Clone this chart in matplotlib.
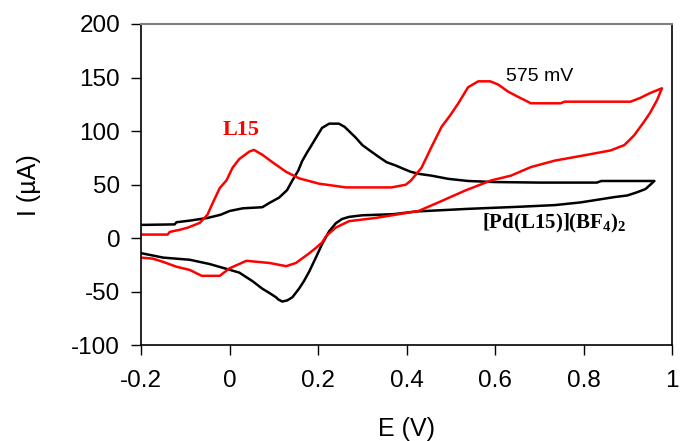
import numpy as np
import matplotlib
matplotlib.use("Agg")
import matplotlib.pyplot as plt

plt.rcParams['font.family'] = ['Liberation Sans', 'DejaVu Sans']
plt.rcParams['mathtext.default'] = 'regular'
plt.rcParams['axes.unicode_minus'] = False

# [Pd(L15)](BF4)2 - black loop (forward scan, then reverse)
E_pd = [-0.2, -0.124, -0.12, -0.09, -0.05, -0.02, 0.0, 0.03, 0.074, 0.09,
        0.112, 0.13, 0.142, 0.155, 0.164, 0.175, 0.184, 0.2, 0.209, 0.225,
        0.247, 0.26, 0.27, 0.285, 0.3, 0.32, 0.337, 0.355, 0.375, 0.398,
        0.41, 0.43, 0.456, 0.494, 0.539, 0.6, 0.7, 0.83, 0.84, 0.96,
        0.94, 0.921, 0.899, 0.87, 0.847, 0.793, 0.735, 0.658, 0.539, 0.42,
        0.37, 0.3, 0.27, 0.254, 0.24, 0.225, 0.209, 0.195, 0.18, 0.168,
        0.157, 0.142, 0.13, 0.119, 0.11, 0.105, 0.09, 0.074, 0.052, 0.022,
        -0.007, -0.045, -0.09, -0.15, -0.198]
I_pd = [12.5, 13, 15, 16.5, 19, 22, 25.5, 28, 29, 33,
        38, 45, 54, 63, 72, 80, 86, 97, 103, 107,
        107, 104, 100, 94, 87, 81, 76, 71, 68, 64,
        62, 60, 58.5, 55.5, 53.5, 52.5, 52, 52, 53.5, 53.5,
        46, 43, 40, 38.5, 37, 33.5, 31, 29.5, 27.5, 25,
        22.5, 21.5, 20, 18, 14, 6.5, -5.5, -18, -31, -40,
        -47, -55, -58, -59, -57, -55, -51, -47, -40, -32,
        -28.5, -24, -20, -18, -14]

# L15 - red loop
E_l15 = [-0.2, -0.14, -0.135, -0.112, -0.094, -0.067, -0.05, -0.038, -0.022, -0.007,
         0.007, 0.022, 0.045, 0.055, 0.074, 0.097, 0.128, 0.157, 0.202, 0.263,
         0.366, 0.398, 0.41, 0.434, 0.456, 0.479, 0.499, 0.517, 0.539, 0.562,
         0.589, 0.607, 0.629, 0.652, 0.681, 0.748, 0.757, 0.906, 0.928, 0.95,
         0.977,
         0.966, 0.95, 0.937, 0.914, 0.892, 0.861, 0.802, 0.735, 0.681, 0.636,
         0.591, 0.532, 0.472, 0.427, 0.382, 0.33, 0.27, 0.24, 0.218, 0.209,
         0.195, 0.18, 0.15, 0.128, 0.09, 0.038, 0.0, -0.022, -0.063, -0.09,
         -0.12, -0.15, -0.173, -0.2]
I_l15 = [3.5, 3.5, 6, 8, 10, 14.5, 22, 33, 47, 54,
         66, 74, 81, 82.5, 78, 71, 62, 56, 51, 47.5,
         47.5, 50, 54, 66, 85, 104, 115, 126, 141, 146.5,
         146.5, 143.5, 137, 132, 126, 126, 127.5, 127.5, 131, 135.5,
         140,
         129, 117, 109, 96, 87, 82, 77.5, 72.5, 66.5, 58.5,
         54, 44.5, 33.5, 25.5, 22.5, 19, 16, 10, 2, -4,
         -9, -14, -23, -26, -23, -21, -28, -35, -35, -29.5,
         -26.5, -22, -19, -18]

xticks = [-0.2, 0, 0.2, 0.4, 0.6, 0.8, 1]
xtick_labels = ['-0.2', '0', '0.2', '0.4', '0.6', '0.8', '1']
yticks = [-100, -50, 0, 50, 100, 150, 200]

fig = plt.figure(figsize=(6.8, 4.41), dpi=100)
ax = fig.add_axes([0.2074, 0.2166, 0.781, 0.729])

ax.plot(E_pd, I_pd, color='black', linewidth=1.8)
ax.plot(E_l15, I_l15, color='red', linewidth=1.8)

ax.set_xlim(-0.2, 1)
ax.set_ylim(-100, 200)
ax.set_xticks(xticks)
ax.set_xticklabels(xtick_labels)
ax.set_yticks(yticks)
ax.tick_params(direction='out', length=7, width=1, labelsize=17.5, pad=8)
ax.tick_params(axis='x', pad=11)

for s in ['left', 'bottom', 'right']:
    ax.spines[s].set_color('black')
    ax.spines[s].set_linewidth(1.2)
ax.spines['top'].set_color('#808080')
ax.spines['top'].set_linewidth(1.5)

ax.set_xlabel('E (V)', fontsize=18, labelpad=18)
ax.set_ylabel('I (µA)', fontsize=18, labelpad=22)

ax.text(0.027, 101, 'L15', color='red', fontsize=16, fontweight='bold',
        family='Liberation Serif', ha='center', va='center')
ax.text(0.625, 151, '575 mV', color='black', fontsize=14,
        ha='left', va='center')
ax.text(0.571, 14, '[Pd(L15)](BF$_4$)$_2$', color='black', fontsize=15,
        fontweight='bold', family='Liberation Serif', ha='left', va='center')

fig.savefig('out.png', dpi=100)
